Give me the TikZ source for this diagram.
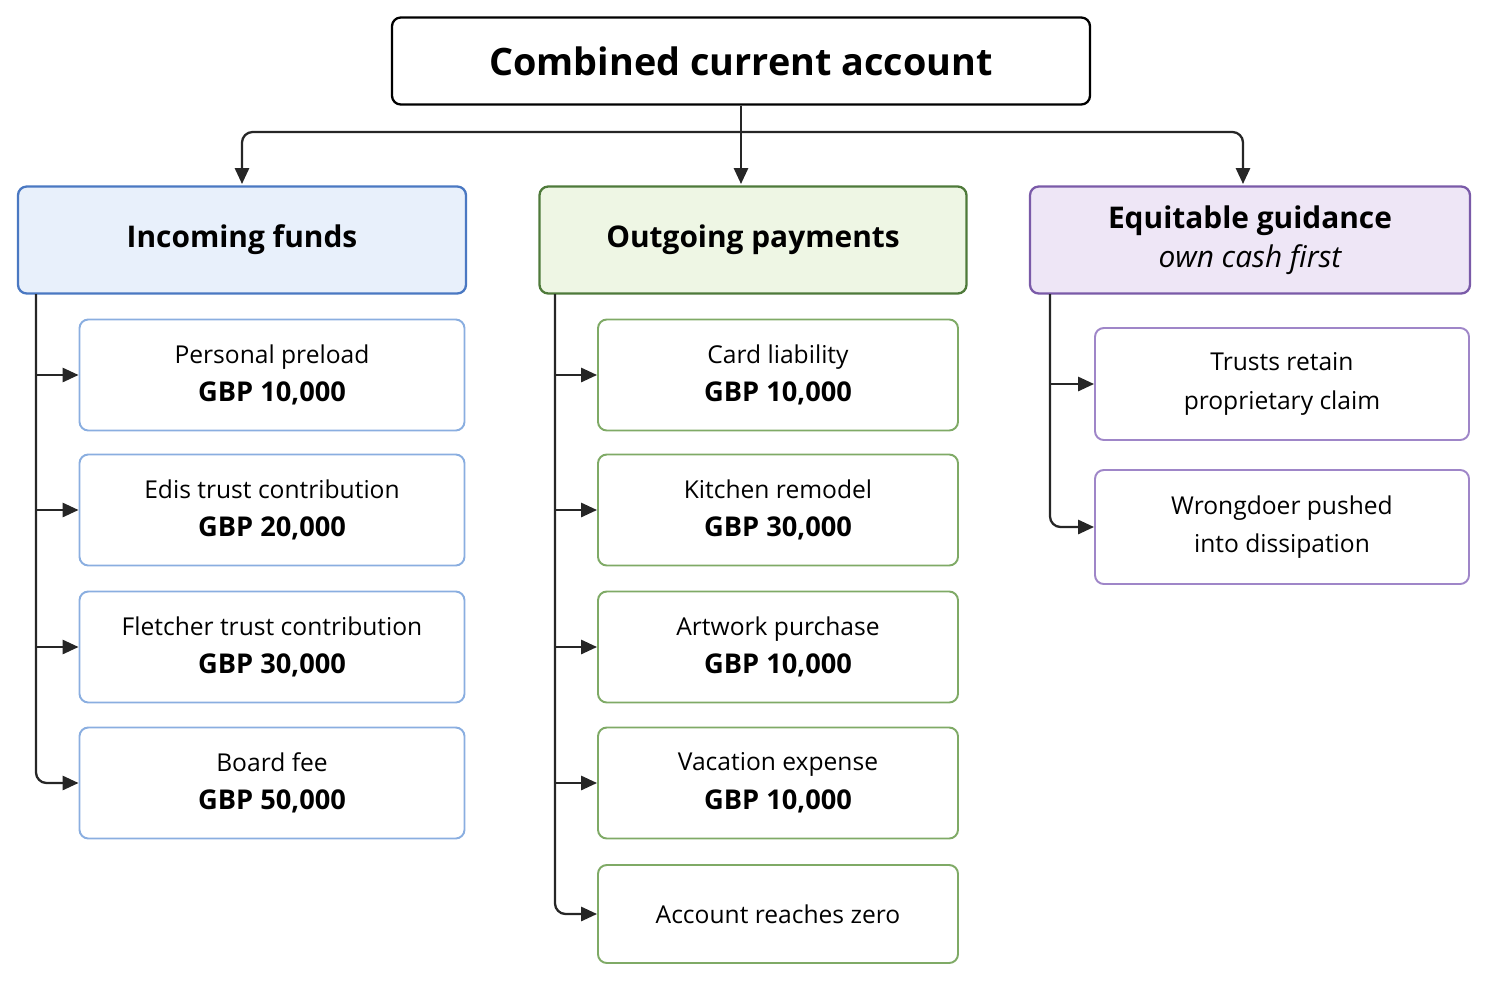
\documentclass[tikz,border=0pt]{standalone}
\usepackage{fontspec}
\setmainfont{Open Sans}
\usetikzlibrary{arrows.meta, positioning}

\definecolor{incfill}{HTML}{E8F0FB}
\definecolor{incline}{HTML}{4A78C2}
\definecolor{incsub}{HTML}{8AAEE0}
\definecolor{outfill}{HTML}{EEF6E4}
\definecolor{outline}{HTML}{4E7A3A}
\definecolor{outsub}{HTML}{7FAA66}
\definecolor{eqfill}{HTML}{EEE6F6}
\definecolor{eqline}{HTML}{7A5AA8}
\definecolor{eqsub}{HTML}{9F86C8}

\tikzset{
  box/.style={draw, rounded corners=5pt, line width=1.3pt, align=center, inner sep=0pt},
  head/.style={box, font=\fontsize{17}{21}\selectfont\bfseries},
  sub/.style={box, font=\fontsize{14}{22}\selectfont, line width=1.1pt},
  arr/.style={-{Triangle[length=9pt,width=8pt]}, line width=1.3pt, black!85}
}

\begin{document}
\begin{tikzpicture}[x=0.02cm, y=-0.02cm]
    \useasboundingbox (0,0) rectangle (1489,981);

    \node[box, minimum width=698*0.02cm, minimum height=87*0.02cm, font=\fontsize{21.5}{26}\selectfont\bfseries] (top) at (741,61) {Combined current account};

    \node[head, fill=incfill, draw=incline, minimum width=448*0.02cm, minimum height=107*0.02cm] (inc) at (242,240) {Incoming funds};
    \node[head, fill=outfill, draw=outline, minimum width=427*0.02cm, minimum height=107*0.02cm] (out) at (753,240) {Outgoing payments};
    \node[head, fill=eqfill, draw=eqline, minimum width=440*0.02cm, minimum height=107*0.02cm] (eq) at (1250,240) {Equitable guidance\\[1pt]{\mdseries\itshape own cash first}};

    % branches from the account
    \coordinate (split) at (741,132);
    \draw[arr] (top.south) -- (741,184) coordinate (outin);
    \draw[arr, rounded corners=6pt] (split) -| (242,184) coordinate (incin);
    \draw[arr, rounded corners=6pt] (split) -| (1243,184) coordinate (eqin);

    % incoming
    \foreach \n/\y/\t/\v in {1/375/Personal preload/{10,000}, 2/510/Edis trust contribution/{20,000}, 3/647/Fletcher trust contribution/{30,000}, 4/783/Board fee/{50,000}}
      {
        \node[sub, draw=incsub, minimum width=385*0.02cm, minimum height=111*0.02cm] (i\n) at (272,\y) {\t\\{\fontsize{15.5}{20}\selectfont\bfseries GBP \v}};
      }
    \coordinate (incT) at (36,294);
    \foreach \n in {1,2,3}
      {
        \draw[arr] (incT) |- (i\n.west);
      }
    \draw[arr, rounded corners=6pt] (incT) |- (i4.west);

    % outgoing
    \foreach \n/\y/\t/\v in {1/375/Card liability/{10,000}, 2/510/Kitchen remodel/{30,000}, 3/647/Artwork purchase/{10,000}, 4/783/Vacation expense/{10,000}}
      {
        \node[sub, draw=outsub, minimum width=360*0.02cm, minimum height=111*0.02cm] (o\n) at (778,\y) {\t\\{\fontsize{15.5}{20}\selectfont\bfseries GBP \v}};
      }
    \node[sub, draw=outsub, minimum width=360*0.02cm, minimum height=98*0.02cm] (o5) at (778,914) {Account reaches zero};
    \coordinate (outT) at (555,294);
    \foreach \n in {1,2,3,4}
      {
        \draw[arr] (outT) |- (o\n.west);
      }
    \draw[arr, rounded corners=6pt] (outT) |- (o5.west);

    % guidance
    \node[sub, draw=eqsub, minimum width=374*0.02cm, minimum height=112*0.02cm] (e1) at (1282,384) {Trusts retain\\proprietary claim};
    \node[sub, draw=eqsub, minimum width=374*0.02cm, minimum height=114*0.02cm] (e2) at (1282,527) {Wrongdoer pushed\\into dissipation};
    \coordinate (eqT) at (1050,294);
    \draw[arr] (eqT) |- (e1.west);
    \draw[arr, rounded corners=6pt] (eqT) |- (e2.west);
\end{tikzpicture}
\end{document}
